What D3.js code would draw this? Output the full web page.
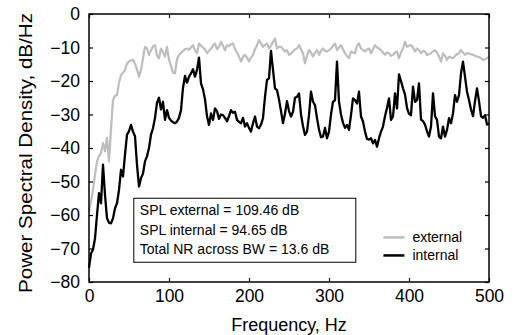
<!DOCTYPE html>
<html>
<head>
<meta charset="utf-8">
<script src="https://cdn.jsdelivr.net/npm/d3@7"></script>
<style>
  body { margin: 0; background: #fff; }
  text { font-family: "Liberation Sans", Arial, Helvetica, sans-serif; fill: #000; }
</style>
</head>
<body>
<div id="chart"></div>
<script>
// frequency grid, Hz (2.5 Hz steps)
const freqs = d3.range(0, 502.5, 2.5)

// external PSD, dB/Hz
const external = [
  -59, -56, -52.5, -48, -44, -42.5, -41.5, -38.5, -41, -37,
  -44, -34.5, -25.7, -24.5, -24.2, -20.5, -18.2, -17.5, -16.8, -14.7,
  -14.2, -13.9, -13.7, -14.8, -16.5, -18.7, -16.7, -13.2, -9.8, -10.3,
  -12.2, -10.8, -9.6, -9.3, -12.5, -13.2, -10.3, -11.5, -12.7, -9.8,
  -13.7, -15.5, -17.5, -17.7, -13.5, -12.2, -11.7, -11, -10.5, -10.3,
  -10.7, -10, -9.3, -10.8, -11.7, -8.8, -9.5, -10, -10.6, -11.7,
  -11, -10.3, -9.5, -8.8, -10.5, -9.8, -8.3, -9.5, -10.8, -9.3,
  -9.6, -9, -8.8, -10.5, -11.5, -12.7, -14.2, -12.8, -12.2, -13,
  -14.2, -13, -12.2, -10.5, -9.3, -7.8, -8.8, -9.8, -9.2, -8.8,
  -10.3, -9.5, -8.3, -7.3, -10.3, -9.8, -9.8, -10.5, -11.2, -10.8,
  -12.2, -11.8, -11.2, -10.5, -10.3, -9.3, -10.5, -11.7, -14.7, -12.5,
  -10.8, -11.5, -12.7, -11.5, -10.8, -12.2, -11, -10.3, -11, -11.2,
  -10.8, -10.3, -9.5, -8.8, -10.8, -10, -9.3, -10.5, -11.7, -12.5,
  -13.2, -11.2, -11.5, -11.7, -9.5, -8.8, -10.3, -10.8, -11.2, -10.5,
  -10.3, -11.7, -10.5, -9.3, -10, -10.3, -10.8, -11.5, -12.2, -11.5,
  -11.7, -12.5, -12.2, -11.5, -11.2, -13.2, -11.5, -10.3, -8.3, -9.8,
  -9.5, -9.3, -10, -11.2, -10.3, -10.8, -11.7, -11, -11.2, -12.2,
  -12, -11.7, -11.2, -10.8, -11.5, -12.7, -14.2, -11.7, -12.5, -13.7,
  -12.7, -13, -13.2, -12.5, -12, -11.7, -10.8, -11.5, -12.2, -11.7,
  -11.8, -12, -12.2, -12.5, -12.7, -12.8, -13.2, -13.7, -13.5, -13.2,
  -12.7
]

// internal PSD, dB/Hz
const internal = [
  -75.8, -71.5, -70.3, -67, -60, -53.5, -56.5, -45, -54, -61,
  -62.3, -62.5, -61, -58, -56.5, -52.5, -46.5, -48.5, -42, -36,
  -35, -33.1, -35.1, -36.5, -45, -51.5, -49, -47.6, -44, -42.5,
  -40, -36, -34.1, -31, -26.5, -25, -28.5, -26.2, -31.6, -28.7,
  -31, -31.8, -32.3, -32.6, -32.1, -31, -28.7, -22, -18.5, -20.5,
  -18.7, -17.7, -16.5, -18.7, -16.7, -13, -20.7, -22.5, -25.5, -30.5,
  -33.1, -29.7, -31.6, -28.2, -29, -31.3, -30, -30.2, -31, -32,
  -30.5, -28.7, -29.5, -29.2, -31.6, -32.2, -32.6, -31, -33.6, -32.6,
  -34, -35.1, -32.6, -30.6, -33.6, -34.1, -33, -31.1, -24.7, -19.7,
  -19.2, -11, -16.7, -22.2, -22.7, -25.5, -29, -32.6, -29.7, -26,
  -29, -30.6, -29.2, -25, -24.7, -23.7, -30, -33.5, -36.1, -35.1,
  -30.2, -23.2, -26.2, -27.2, -31.1, -34.5, -36.8, -36.6, -34, -37.1,
  -35.1, -30, -26.2, -25.7, -14.2, -26.2, -30, -32.5, -34, -33.1,
  -34.6, -30.2, -25.2, -25.7, -26.7, -23.2, -30.6, -32.1, -35.1, -37.3,
  -37.5, -37.1, -38.6, -37.6, -39.6, -37.1, -35.1, -33.6, -30.5, -28,
  -25.2, -31.6, -30.6, -23.7, -28.2, -18, -20, -22.2, -24, -28,
  -29.8, -30.2, -21.7, -26.2, -25.7, -20.7, -31.5, -32, -33, -35,
  -36.6, -33.6, -23.7, -30.5, -31.6, -36.6, -37.1, -33.6, -36.6, -34.6,
  -31.1, -32.6, -29.7, -24.2, -26.2, -24.2, -17.7, -14.2, -18.7, -23.2,
  -25.7, -28.5, -30.5, -26, -22.2, -26, -30.5, -31, -30.2, -33,
  -32.6
]

const xTicks = [0, 100, 200, 300, 400, 500]
const yTicks = [0, -10, -20, -30, -40, -50, -60, -70, -80]
const infoLines = ['SPL external = 109.46 dB', 'SPL internal = 94.65 dB', 'Total NR across BW = 13.6 dB']
const seriesNames = ['external', 'internal']
const seriesColors = ['#bdbdbd', '#000']

const width = 515, height = 335
const margin = { top: 14, right: 26, bottom: 53, left: 89 }
const w = width - margin.left - margin.right
const h = height - margin.top - margin.bottom

const svg = d3.select('#chart').append('svg')
  .attr('width', width)
  .attr('height', height)

const g = svg.append('g')
  .attr('transform', `translate(${margin.left},${margin.top})`)

const x = d3.scaleLinear().domain([0, 500]).range([0, w])
const y = d3.scaleLinear().domain([-80, 0]).range([h, 0])

// axes, ticks pointing inward
g.append('g')
  .attr('transform', `translate(0,${h})`)
  .call(d3.axisBottom(x).tickValues(xTicks).tickSize(-4).tickPadding(8))
  .call(a => a.select('.domain').remove())
g.append('g')
  .call(d3.axisTop(x).tickValues(xTicks).tickSize(-4).tickFormat(''))
  .call(a => a.select('.domain').remove())
g.append('g')
  .call(d3.axisLeft(y).tickValues(yTicks).tickSize(-4).tickPadding(9))
  .call(a => a.select('.domain').remove())
g.append('g')
  .attr('transform', `translate(${w},0)`)
  .call(d3.axisRight(y).tickValues(yTicks).tickSize(-4).tickFormat(''))
  .call(a => a.select('.domain').remove())

g.selectAll('.tick line').attr('stroke', '#000').attr('stroke-width', 1.2)
g.selectAll('.tick text').style('font-size', '17.5px')

const line = d3.line()
  .x((d, i) => x(freqs[i]))
  .y(d => y(d))

g.append('path')
  .datum(external)
  .attr('fill', 'none')
  .attr('stroke', seriesColors[0])
  .attr('stroke-width', 2.2)
  .attr('stroke-linejoin', 'round')
  .attr('d', line)

g.append('path')
  .datum(internal)
  .attr('fill', 'none')
  .attr('stroke', seriesColors[1])
  .attr('stroke-width', 2.3)
  .attr('stroke-linejoin', 'round')
  .attr('d', line)

// frame
g.append('rect')
  .attr('width', w)
  .attr('height', h)
  .attr('fill', 'none')
  .attr('stroke', '#000')
  .attr('stroke-width', 1.5)

// info box
const box = g.append('g').attr('transform', `translate(${x(56)},${y(-55)})`)
box.append('rect')
  .attr('width', 222)
  .attr('height', 64)
  .attr('fill', '#fff')
  .attr('stroke', '#000')
  .attr('stroke-width', 1)
box.selectAll('text')
  .data(infoLines)
  .enter()
  .append('text')
  .attr('x', 6)
  .attr('y', (d, i) => 17 + i * 19.5)
  .style('font-size', '14px')
  .text(d => d)

// legend
const legend = g.append('g').attr('transform', `translate(${x(368)},${y(-66.7)})`)
seriesNames.forEach((name, i) => {
  legend.append('line')
    .attr('x1', 0).attr('x2', 21)
    .attr('y1', i * 18).attr('y2', i * 18)
    .attr('stroke', seriesColors[i])
    .attr('stroke-width', 2.5)
  legend.append('text')
    .attr('x', 29)
    .attr('y', i * 18 + 5)
    .style('font-size', '14px')
    .text(name)
})

// axis titles
svg.append('text')
  .attr('x', margin.left + w / 2)
  .attr('y', 331)
  .attr('text-anchor', 'middle')
  .style('font-size', '18px')
  .text('Frequency, Hz')

svg.append('text')
  .attr('transform', `translate(32,153) rotate(-90)`)
  .attr('text-anchor', 'middle')
  .attr('textLength', 280)
  .attr('lengthAdjust', 'spacingAndGlyphs')
  .style('font-size', '18.5px')
  .text('Power Spectral Density, dB/Hz')
</script>
</body>
</html>
